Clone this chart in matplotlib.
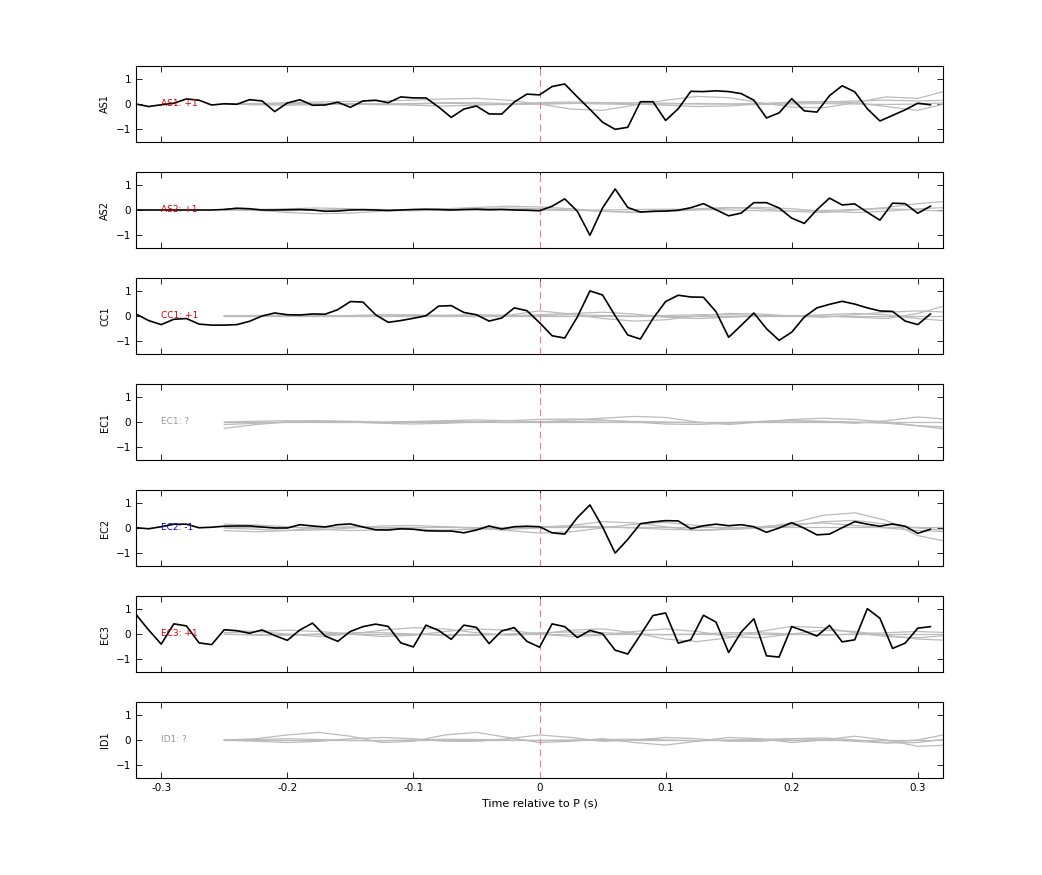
import numpy as np
import matplotlib
matplotlib.use("Agg")
import matplotlib.pyplot as plt

stations = ["AS1", "AS2", "CC1", "EC1", "EC2", "EC3", "ID1"]
polarity = ["+1", "+1", "+1", "?", "-1", "+1", "?"]
pol_colors = {"+1": "#d40000", "-1": "#0000cc", "?": "#999999"}

t_black = np.round(np.arange(-0.32, 0.315, 0.01), 3)
black = {
    "AS1": [0, -0.1, -0.03, 0.03, 0.2, 0.15, -0.04, 0.01, -0.01, 0.17, 0.12, -0.3, 0.04, 0.17, -0.05, -0.04,
            0.07, -0.13, 0.12, 0.15, 0.05, 0.28, 0.24, 0.24, -0.12, -0.53, -0.2, -0.08, -0.39, -0.4, 0.08, 0.39,
            0.36, 0.69, 0.79, 0.28, -0.21, -0.72, -1.0, -0.92, 0.09, 0.09, -0.65, -0.19, 0.5, 0.49, 0.52, 0.49,
            0.41, 0.15, -0.55, -0.35, 0.21, -0.27, -0.32, 0.33, 0.72, 0.48, -0.19, -0.67, -0.45, -0.23, 0.03, -0.03],
    "AS2": [0, 0, 0, 0, 0, 0, 0, 0.02, 0.07, 0.05, 0.0, 0.0, 0.01, 0.02, 0.0, -0.05,
            -0.04, 0.0, 0.01, 0.0, -0.02, 0.0, 0.02, 0.03, 0.02, 0.0, 0.02, 0.03, 0.01, 0.02, 0.0, -0.01,
            -0.03, 0.15, 0.44, -0.05, -1.0, 0.08, 0.83, 0.1, -0.08, -0.05, -0.04, -0.01, 0.09, 0.25, 0.01, -0.23,
            -0.12, 0.29, 0.29, 0.08, -0.32, -0.53, 0.01, 0.47, 0.2, 0.24, -0.09, -0.4, 0.27, 0.25, -0.13, 0.15],
    "CC1": [0.08, -0.18, -0.34, -0.13, -0.1, -0.32, -0.36, -0.36, -0.34, -0.21, 0, 0.12, 0.05, 0.04, 0.08, 0.07,
            0.25, 0.57, 0.55, 0.05, -0.25, -0.18, -0.09, 0.01, 0.39, 0.41, 0.14, 0.05, -0.2, -0.08, 0.32, 0.21,
            -0.26, -0.78, -0.87, -0.04, 0.99, 0.83, 0.01, -0.75, -0.91, -0.1, 0.57, 0.82, 0.75, 0.74, 0.17, -0.84,
            -0.37, 0.12, -0.5, -0.96, -0.64, -0.04, 0.32, 0.46, 0.58, 0.47, 0.32, 0.2, 0.18, -0.2, -0.34, 0.08],
    "EC2": [0.01, -0.03, 0.05, 0.15, 0.15, 0.01, 0.03, 0.07, 0.08, 0.08, 0.04, 0, 0, 0.13, 0.08, 0.04,
            0.13, 0.16, 0.04, -0.07, -0.08, -0.03, -0.05, -0.11, -0.12, -0.12, -0.19, -0.08, 0.08, -0.04, 0.05, 0.07,
            0.05, -0.19, -0.24, 0.41, 0.91, 0.04, -0.99, -0.45, 0.17, 0.24, 0.29, 0.28, -0.03, 0.09, 0.15, 0.09,
            0.13, 0.05, -0.17, 0, 0.21, -0.01, -0.27, -0.24, 0.01, 0.25, 0.15, 0.07, 0.16, 0.07, -0.21, -0.05],
    "EC3": [0.77, 0.16, -0.4, 0.4, 0.32, -0.35, -0.42, 0.17, 0.13, 0.03, 0.16, -0.06, -0.25, 0.16, 0.43, -0.08,
            -0.29, 0.1, 0.29, 0.39, 0.3, -0.35, -0.51, 0.35, 0.14, -0.21, 0.35, 0.26, -0.38, 0.12, 0.25, -0.29,
            -0.52, 0.4, 0.29, -0.14, 0.14, 0.01, -0.64, -0.79, -0.04, 0.73, 0.83, -0.36, -0.23, 0.74, 0.47, -0.73,
            0.08, 0.6, -0.86, -0.91, 0.29, 0.12, -0.08, 0.34, -0.31, -0.23, 1.0, 0.62, -0.57, -0.36, 0.23, 0.29],
}

t_gray = np.round(np.arange(-0.25, 0.33, 0.025), 3)
gray = {
    "AS1": [[0.0, 0.02, 0.05, 0.08, 0.1, 0.12, 0.15, 0.2, 0.22, 0.15, 0.0, -0.2, -0.25, -0.05, 0.15, 0.3, 0.25, 0.05, -0.12, -0.15, 0.05, 0.28, 0.22, 0.55],
            [0.0, -0.03, -0.05, -0.02, 0.02, 0.0, -0.05, -0.08, -0.05, 0.0, 0.05, 0.08, 0.05, 0.0, -0.05, -0.1, -0.08, 0.0, 0.08, 0.1, 0.05, -0.1, -0.25, 0.05],
            [0.0, 0.0, 0.02, 0.0, -0.02, 0.0, 0.02, 0.05, 0.05, 0.02, 0.0, 0.02, 0.05, 0.05, 0.03, 0.0, 0.0, 0.02, 0.05, 0.08, 0.12, 0.15, 0.12, 0.15],
            [0.0, -0.02, 0.0, 0.02, 0.0, -0.03, 0.0, 0.03, 0.0, -0.03, 0.0, 0.03, 0.0, -0.02, 0.0, 0.02, 0.0, -0.02, 0.0, 0.02, 0.0, -0.02, 0.0, 0.05]],
    "AS2": [[0.05, 0.0, -0.1, -0.15, -0.12, -0.05, 0.0, 0.05, 0.1, 0.15, 0.12, 0.05, -0.05, -0.1, -0.05, 0.05, 0.1, 0.05, -0.05, -0.1, 0.0, 0.1, 0.25, 0.35],
            [0.0, 0.02, 0.05, 0.08, 0.05, 0.0, -0.03, 0.0, 0.05, 0.08, 0.05, 0.0, -0.05, -0.08, -0.05, 0.0, 0.08, 0.1, 0.05, -0.05, -0.1, -0.05, 0.05, 0.1],
            [0.0, -0.02, -0.03, 0.0, 0.03, 0.02, 0.0, -0.02, 0.0, 0.02, 0.0, -0.02, 0.0, 0.02, 0.03, 0.02, 0.0, -0.03, -0.05, -0.02, 0.02, 0.05, 0.0, -0.05]],
    "CC1": [[0.0, 0.0, 0.0, 0.0, 0.02, 0.05, 0.05, 0.02, 0.0, 0.0, 0.05, 0.1, 0.15, 0.08, -0.05, -0.1, -0.05, 0.0, 0.02, 0.0, -0.05, -0.1, 0.1, 0.45],
            [0.0, 0.02, 0.03, 0.02, 0.0, -0.02, 0.0, 0.03, 0.05, 0.03, 0.2, 0.08, -0.1, -0.2, -0.15, 0.0, 0.1, 0.08, 0.0, -0.05, 0.05, 0.15, 0.2, 0.15],
            [0.0, 0.0, 0.02, 0.0, -0.02, 0.0, 0.02, 0.0, -0.02, 0.0, 0.02, 0.05, 0.02, 0.0, 0.02, 0.05, 0.05, 0.02, 0.0, 0.05, 0.1, 0.05, -0.1, -0.2],
            [0.0, 0.0, 0.0, 0.0, 0.0, 0.0, 0.0, 0.0, 0.0, 0.0, 0.0, 0.0, 0.0, 0.0, 0.0, 0.0, 0.0, 0.0, 0.0, 0.0, 0.0, 0.0, 0.0, 0.0]],
    "EC1": [[0.0, 0.03, 0.05, 0.05, 0.03, 0.0, 0.02, 0.05, 0.08, 0.05, 0.0, 0.08, 0.15, 0.22, 0.18, 0.0, -0.1, 0.0, 0.1, 0.15, 0.1, 0.0, -0.15, -0.3],
            [-0.1, -0.05, 0.0, 0.02, 0.0, -0.05, -0.08, -0.05, 0.0, 0.05, 0.1, 0.12, 0.08, 0.0, -0.08, -0.1, -0.05, 0.02, 0.05, 0.02, -0.05, 0.05, 0.2, 0.1],
            [-0.25, -0.1, 0.0, 0.03, 0.0, -0.02, 0.0, 0.03, 0.0, -0.02, 0.0, 0.02, 0.05, 0.02, 0.0, -0.03, -0.02, 0.02, 0.05, 0.03, 0.0, -0.05, -0.15, -0.2],
            [0.0, 0.0, 0.0, 0.0, 0.0, 0.0, 0.0, 0.0, 0.0, 0.0, 0.0, 0.0, 0.0, 0.0, 0.0, 0.0, 0.0, 0.0, 0.0, 0.0, 0.0, 0.0, 0.0, 0.0]],
    "EC2": [[0.15, 0.12, 0.05, -0.05, -0.1, -0.08, 0.0, 0.05, 0.0, -0.1, -0.2, -0.15, 0.0, 0.15, 0.22, 0.1, -0.05, 0.0, 0.2, 0.5, 0.6, 0.3, -0.3, -0.55],
            [0.0, -0.05, -0.1, -0.08, 0.0, 0.08, 0.1, 0.05, -0.02, -0.05, 0.0, 0.1, 0.25, 0.2, 0.05, -0.1, -0.05, 0.05, 0.15, 0.2, 0.1, 0.0, -0.1, -0.15],
            [-0.1, -0.15, -0.1, 0.0, 0.05, 0.0, -0.05, -0.08, -0.05, 0.0, 0.05, 0.08, 0.05, 0.0, -0.05, -0.08, -0.05, 0.0, 0.08, 0.25, 0.3, 0.15, 0.0, -0.1],
            [0.05, 0.05, 0.05, 0.05, 0.05, 0.05, 0.05, 0.05, 0.05, 0.05, 0.05, 0.05, 0.05, 0.05, 0.05, 0.05, 0.05, 0.05, 0.05, 0.05, 0.05, 0.05, 0.05, 0.05]],
    "EC3": [[0.15, 0.1, 0.0, -0.1, 0.0, 0.15, 0.25, 0.2, 0.05, -0.05, 0.0, 0.15, 0.2, 0.05, -0.2, -0.3, -0.15, 0.1, 0.3, 0.25, 0.05, -0.1, -0.15, -0.05],
            [0.05, 0.1, 0.15, 0.1, 0.0, -0.1, -0.05, 0.1, 0.2, 0.15, 0.0, -0.1, -0.05, 0.1, 0.2, 0.1, -0.1, -0.15, 0.0, 0.15, 0.1, -0.05, -0.2, -0.25],
            [0.0, -0.05, -0.05, 0.0, 0.05, 0.05, 0.0, -0.05, -0.05, 0.0, 0.05, 0.08, 0.05, 0.0, -0.03, 0.0, 0.05, 0.05, 0.0, -0.05, 0.0, 0.05, 0.1, 0.05],
            [0.0, 0.0, 0.0, 0.0, 0.0, 0.0, 0.0, 0.0, 0.0, 0.0, 0.0, 0.0, 0.0, 0.0, 0.0, 0.0, 0.0, 0.0, 0.0, 0.0, 0.0, 0.0, 0.0, 0.0]],
    "ID1": [[0.0, 0.05, 0.2, 0.3, 0.15, -0.1, -0.05, 0.2, 0.3, 0.1, -0.1, -0.05, 0.05, -0.1, -0.2, -0.05, 0.1, 0.05, -0.1, 0.0, 0.15, 0.0, -0.25, -0.2],
            [0.0, -0.05, -0.1, -0.05, 0.05, 0.1, 0.05, -0.05, -0.05, 0.05, 0.2, 0.1, -0.05, 0.0, 0.1, 0.05, -0.05, -0.05, 0.05, 0.08, 0.0, -0.1, 0.0, 0.25],
            [0.0, 0.02, 0.05, 0.02, -0.02, -0.03, 0.0, 0.03, 0.02, 0.0, -0.02, 0.0, 0.02, 0.03, 0.0, -0.03, 0.0, 0.03, 0.05, 0.02, -0.05, -0.12, -0.1, 0.05],
            [0.0, 0.0, 0.0, 0.0, 0.0, 0.0, 0.0, 0.0, 0.0, 0.0, 0.0, 0.0, 0.0, 0.0, 0.0, 0.0, 0.0, 0.0, 0.0, 0.0, 0.0, 0.0, 0.0, 0.0]],
}

xticks = [-0.3, -0.2, -0.1, 0, 0.1, 0.2, 0.3]
xticklabels = ["-0.3", "-0.2", "-0.1", "0", "0.1", "0.2", "0.3"]
yticks = [-1, 0, 1]

fig = plt.figure(figsize=(10.42, 8.75), dpi=100)
W, H = 1042, 875
for i, st in enumerate(stations):
    top = 66 + 106 * i
    ax = fig.add_axes([136 / W, 1 - (top + 76) / H, 807 / W, 76 / H])
    for g in gray[st]:
        ax.plot(t_gray, g, color="#bbbbbb", lw=0.9)
    ax.axvline(0, color="#e88080", lw=0.8, ls=(0, (6, 4)))
    if st in black:
        ax.plot(t_black, black[st], color="black", lw=1.2)
    ax.text(-0.3, 0, f"{st}: {polarity[i]}", color=pol_colors[polarity[i]], fontsize=6.5, va="center")
    ax.set_xlim(-0.32, 0.32)
    ax.set_ylim(-1.5, 1.5)
    ax.set_yticks(yticks)
    ax.set_xticks(xticks)
    ax.tick_params(direction="in", top=True, right=True, labelsize=7.5, length=4, width=0.6)
    ax.set_ylabel(st, fontsize=7)
    for s in ax.spines.values():
        s.set_linewidth(0.8)
    if i == len(stations) - 1:
        ax.set_xticklabels(xticklabels)
        ax.set_xlabel("Time relative to P (s)", fontsize=8)
    else:
        ax.set_xticklabels([])

fig.savefig("out.png", dpi=100)
